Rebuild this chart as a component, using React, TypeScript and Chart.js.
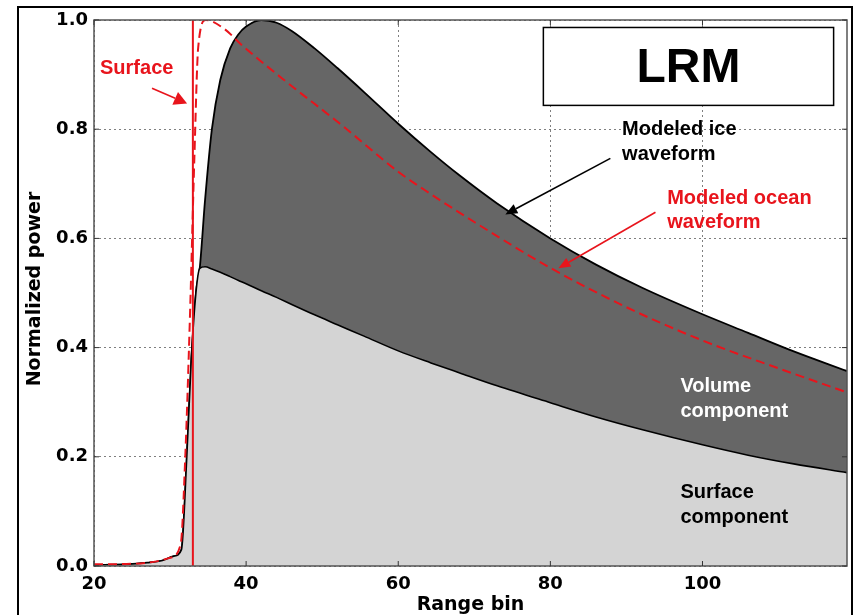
import React, { useEffect, useRef } from "react";
import { Chart, registerables } from "chart.js";

Chart.register(...registerables);

// ---- data ----
const rangeBins = [20, 24, 27, 29, 30.5, 31.5, 32.2, 32.8, 33.4, 33.9, 34.6, 35.5, 36.6, 37.9, 39, 40, 42, 44, 46, 49, 52, 55.5, 60, 64.3, 68, 73, 80, 86, 92, 100, 106, 112, 119];
const iceWaveform = [0.002, 0.003, 0.006, 0.01, 0.018, 0.03, 0.2, 0.38, 0.5, 0.545, 0.67, 0.8, 0.89, 0.948, 0.974, 0.988, 1.0, 0.995, 0.98, 0.948, 0.912, 0.868, 0.81, 0.758, 0.716, 0.664, 0.6, 0.552, 0.51, 0.461, 0.427, 0.393, 0.357];
const surfaceComponent = [0.002, 0.003, 0.006, 0.01, 0.018, 0.03, 0.2, 0.38, 0.5, 0.545, 0.548, 0.544, 0.538, 0.53, 0.523, 0.517, 0.504, 0.492, 0.479, 0.46, 0.442, 0.421, 0.394, 0.372, 0.354, 0.33, 0.299, 0.273, 0.25, 0.222, 0.203, 0.187, 0.171];
const oceanBins = [20, 25, 28, 30, 31.4, 32.0, 32.6, 33.2, 33.7, 34.7, 37, 39.6, 45, 52.7, 60, 64.3, 70, 80, 90, 100, 110, 119];
const oceanWaveform = [0.003, 0.004, 0.008, 0.015, 0.04, 0.2, 0.45, 0.75, 0.95, 1.0, 0.985, 0.952, 0.89, 0.806, 0.722, 0.681, 0.63, 0.546, 0.474, 0.413, 0.362, 0.318];
const surfaceMarkerBin = 33;
const xTicks = [20, 40, 60, 80, 100];
const yTicks = [0, 0.2, 0.4, 0.6, 0.8, 1.0];
const xRange = [20, 119];
const yRange = [0, 1];

const RED = "#e8141c";
const TITLE_FONT = 'bold 19px "DejaVu Sans"';
const ANN_FONT = 'bold 20px "Liberation Sans", Arial, sans-serif';

function drawArrow(ctx: CanvasRenderingContext2D, x1: number, y1: number, x2: number, y2: number, color: string, head = 12, hw = 5) {
  const ang = Math.atan2(y2 - y1, x2 - x1);
  const bx = x2 - head * Math.cos(ang);
  const by = y2 - head * Math.sin(ang);
  ctx.save();
  ctx.strokeStyle = color;
  ctx.fillStyle = color;
  ctx.lineWidth = 1.6;
  ctx.beginPath();
  ctx.moveTo(x1, y1);
  ctx.lineTo(bx, by);
  ctx.stroke();
  ctx.beginPath();
  ctx.moveTo(x2, y2);
  ctx.lineTo(bx + hw * Math.sin(ang), by - hw * Math.cos(ang));
  ctx.lineTo(bx - hw * Math.sin(ang), by + hw * Math.cos(ang));
  ctx.closePath();
  ctx.fill();
  ctx.restore();
}

const decorPlugin = {
  id: "decor",
  beforeDraw(chart: any) {
    const ctx = chart.ctx;
    ctx.save();
    ctx.fillStyle = "#ffffff";
    ctx.fillRect(0, 0, chart.width, chart.height);
    ctx.restore();
  },
  afterDraw(chart: any) {
    const ctx: CanvasRenderingContext2D = chart.ctx;
    const xs = chart.scales.x;
    const ys = chart.scales.y;
    const a = chart.chartArea;
    const X = (v: number) => xs.getPixelForValue(v);
    const Y = (v: number) => ys.getPixelForValue(v);
    ctx.save();

    // plot border
    ctx.strokeStyle = "#555";
    ctx.lineWidth = 1.5;
    ctx.strokeRect(a.left, a.top, a.right - a.left, a.bottom - a.top);
    // inward ticks
    ctx.lineWidth = 1;
    ctx.strokeStyle = "#333";
    ctx.beginPath();
    xTicks.forEach((t) => {
      const px = X(t);
      ctx.moveTo(px, a.bottom); ctx.lineTo(px, a.bottom - 5);
      ctx.moveTo(px, a.top); ctx.lineTo(px, a.top + 5);
    });
    yTicks.forEach((t) => {
      const py = Y(t);
      ctx.moveTo(a.left, py); ctx.lineTo(a.left + 5, py);
      ctx.moveTo(a.right, py); ctx.lineTo(a.right - 5, py);
    });
    ctx.stroke();

    // axis titles
    ctx.fillStyle = "#000";
    ctx.font = TITLE_FONT;
    ctx.textAlign = "center";
    ctx.textBaseline = "middle";
    ctx.fillText("Range bin", (a.left + a.right) / 2, a.bottom + 39);
    ctx.save();
    ctx.translate(a.left - 59, (a.top + a.bottom) / 2 - 4);
    ctx.rotate(-Math.PI / 2);
    ctx.fillText("Normalized power", 0, 0);
    ctx.restore();

    // LRM box
    const bx1 = X(79.08), bx2 = X(117.24), by1 = Y(0.9863), by2 = Y(0.8436);
    ctx.fillStyle = "#fff";
    ctx.fillRect(bx1, by1, bx2 - bx1, by2 - by1);
    ctx.strokeStyle = "#000";
    ctx.lineWidth = 1.5;
    ctx.strokeRect(bx1, by1, bx2 - bx1, by2 - by1);
    ctx.fillStyle = "#000";
    ctx.font = 'bold 48px "Liberation Sans", Arial, sans-serif';
    ctx.textAlign = "center";
    ctx.textBaseline = "middle";
    ctx.fillText("LRM", (bx1 + bx2) / 2, (by1 + by2) / 2 + 2);

    // annotations
    ctx.font = ANN_FONT;
    ctx.textAlign = "left";
    ctx.textBaseline = "alphabetic";
    ctx.fillStyle = RED;
    ctx.fillText("Surface", X(20.79), Y(0.902));
    drawArrow(ctx, X(27.63), Y(0.875), X(32.24), Y(0.847), RED, 13, 7);

    ctx.fillStyle = "#000";
    ctx.fillText("Modeled ice", X(89.43), Y(0.7887));
    ctx.fillText("waveform", X(89.43), Y(0.7429));
    drawArrow(ctx, X(87.89), Y(0.7466), X(74.08), Y(0.644), "#000", 12, 5);

    ctx.fillStyle = RED;
    ctx.fillText("Modeled ocean", X(95.36), Y(0.6624));
    ctx.fillText("waveform", X(95.36), Y(0.6185));
    drawArrow(ctx, X(93.82), Y(0.6478), X(81.05), Y(0.5453), RED, 12, 5);

    ctx.fillStyle = "#fff";
    ctx.fillText("Volume", X(97.1), Y(0.3184));
    ctx.fillText("component", X(97.1), Y(0.2726));

    ctx.fillStyle = "#000";
    ctx.fillText("Surface", X(97.1), Y(0.125));
    ctx.fillText("component", X(97.1), Y(0.0787));

    // outer slide frame
    ctx.strokeStyle = "#000";
    ctx.lineWidth = 2;
    ctx.strokeRect(18, 7, 834, 640);
    ctx.restore();
  },
};

export default function App() {
  const ref = useRef<HTMLCanvasElement | null>(null);
  useEffect(() => {
    if (!ref.current) return;
    const icePts = rangeBins.map((x, i) => ({ x, y: iceWaveform[i] }));
    const surfPts = rangeBins.map((x, i) => ({ x, y: surfaceComponent[i] }));
    const oceanPts = oceanBins.map((x, i) => ({ x, y: oceanWaveform[i] }));
    const markerPts = [{ x: surfaceMarkerBin, y: yRange[0] }, { x: surfaceMarkerBin, y: yRange[1] }];
    const chart = new Chart(ref.current, {
      type: "line",
      data: {
        datasets: [
          {
            label: "Modeled ocean waveform",
            data: oceanPts,
            borderColor: RED,
            borderWidth: 2,
            borderDash: [9, 5],
            pointRadius: 0,
            fill: false,
            cubicInterpolationMode: "monotone",
          },
          {
            label: "Surface",
            data: markerPts,
            borderColor: RED,
            borderWidth: 2,
            pointRadius: 0,
            fill: false,
            tension: 0,
          },
          {
            label: "Surface component",
            data: surfPts,
            borderColor: "#000",
            borderWidth: 1.6,
            backgroundColor: "#d4d4d4",
            pointRadius: 0,
            fill: "origin",
            cubicInterpolationMode: "monotone",
          },
          {
            label: "Modeled ice waveform",
            data: icePts,
            borderColor: "#000",
            borderWidth: 1.8,
            backgroundColor: "#666666",
            pointRadius: 0,
            fill: 2,
            cubicInterpolationMode: "monotone",
          },
        ],
      },
      options: {
        animation: false,
        responsive: false,
        events: [],
        layout: { padding: { left: 0, top: 20, right: 11, bottom: 0 } },
        plugins: { legend: { display: false }, tooltip: { enabled: false } },
        scales: {
          x: {
            type: "linear",
            min: xRange[0],
            max: xRange[1],
            z: 1,
            afterBuildTicks: (s: any) => { s.ticks = xTicks.map((v) => ({ value: v })); },
            afterFit: (s: any) => { s.height = 49; },
            border: { display: false, dash: [2, 3] },
            grid: { color: "rgba(0,0,0,0.5)", lineWidth: 1, drawTicks: false },
            ticks: { color: "#000", font: { family: "DejaVu Sans", weight: "bold", size: 18 }, padding: 8, maxRotation: 0, autoSkip: false, callback: (v: any) => String(v) },
          },
          y: {
            type: "linear",
            min: yRange[0],
            max: yRange[1],
            z: 1,
            afterBuildTicks: (s: any) => { s.ticks = yTicks.map((v) => ({ value: v })); },
            afterFit: (s: any) => { s.width = 94; },
            border: { display: false, dash: [2, 3] },
            grid: { color: "rgba(0,0,0,0.5)", lineWidth: 1, drawTicks: false },
            ticks: { color: "#000", font: { family: "DejaVu Sans", weight: "bold", size: 18 }, padding: 6, autoSkip: false, callback: (v: any) => Number(v).toFixed(1) },
          },
        },
      } as any,
      plugins: [decorPlugin],
    });
    return () => chart.destroy();
  }, []);
  return (
    <div style={{ position: "fixed", left: 0, top: 0, width: 858, height: 615, background: "#fff" }}>
      <canvas ref={ref} width={858} height={615} style={{ width: 858, height: 615, display: "block" }} />
    </div>
  );
}
